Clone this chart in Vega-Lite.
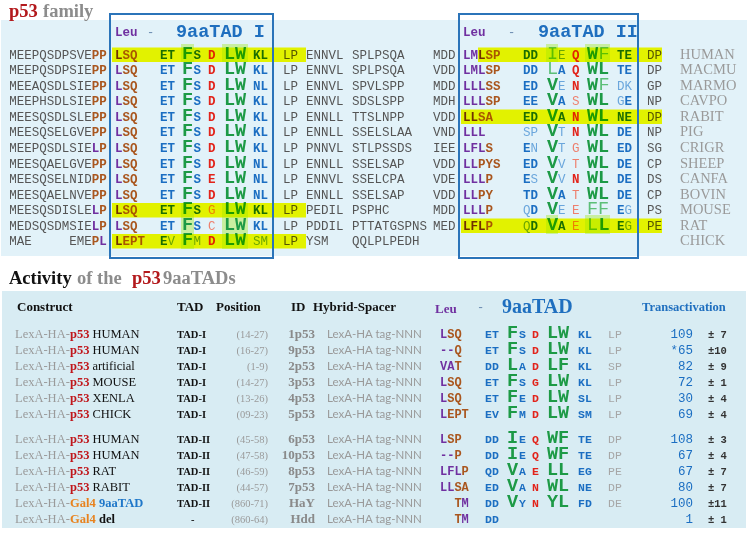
{
"$schema":"https://vega.github.io/schema/vega-lite/v6.json",
"width":748,"height":537,"padding":0,"autosize":{"type":"none"},
"background":"#ffffff",
"config":{"view":{"stroke":null}},
"datasets":{
"rc":[
{"x":1,"x2":747,"y":20,"y2":256,"k":"pT"},
{"x":2,"x2":746,"y":291,"y2":528,"k":"pB"},
{"x":181,"x2":194,"y":44,"y2":62,"k":"patch"},
{"x":222,"x2":248,"y":44,"y2":62,"k":"patch"},
{"x":546,"x2":558,"y":44,"y2":62,"k":"patch"},
{"x":585,"x2":610,"y":44,"y2":62,"k":"patch"},
{"x":181,"x2":194,"y":203,"y2":249,"k":"patch"},
{"x":222,"x2":248,"y":203,"y2":249,"k":"patch"},
{"x":546,"x2":558,"y":215,"y2":234,"k":"patch"},
{"x":585,"x2":610,"y":215,"y2":234,"k":"patch"},
{"x":112,"x2":306,"y":47.5,"y2":62,"k":"hl"},
{"x":478,"x2":662,"y":47.5,"y2":62,"k":"hl"},
{"x":461,"x2":662,"y":109.5,"y2":124,"k":"hl"},
{"x":112,"x2":306,"y":203,"y2":217.5,"k":"hl"},
{"x":461,"x2":662,"y":218.5,"y2":233,"k":"hl"},
{"x":112,"x2":306,"y":234,"y2":248.5,"k":"hl"},
{"x":110,"x2":273,"y":14,"y2":258,"k":"box"},
{"x":459,"x2":638,"y":14,"y2":258,"k":"box"}
],
"txt":[
{"x":9,"y":17,"t":"p53","k":"tred"},{"x":43,"y":17,"t":"family","k":"tgray"},
{"x":115,"y":36,"t":"Leu","k":"pu"},{"x":147,"y":36,"t":"-","k":"dash"},{"x":176,"y":37,"t":"9aaTAD I","k":"h9"},
{"x":463,"y":36,"t":"Leu","k":"pu"},{"x":508,"y":36,"t":"-","k":"dash"},{"x":538,"y":37,"t":"9aaTAD II","k":"h9"},

{"x":9.3,"y":58.5,"t":"MEEPQSDPSVE","k":"gr"},{"x":91.8,"y":58.5,"t":"PP","k":"br"},{"x":115,"y":58.5,"t":"L","k":"pu"},{"x":122.5,"y":58.5,"t":"SQ","k":"br"},{"x":160,"y":58.5,"t":"ET","k":"bl"},{"x":182,"y":58.5,"t":"F","k":"G"},{"x":193.5,"y":58.5,"t":"S","k":"bl"},{"x":208,"y":58.5,"t":"D","k":"re"},{"x":224,"y":58.5,"t":"LW","k":"G"},{"x":253,"y":58.5,"t":"KL","k":"bl"},{"x":283,"y":58.5,"t":"LP","k":"gr"},{"x":306,"y":58.5,"t":"ENNVL","k":"gr"},{"x":352,"y":58.5,"t":"SPLPSQA","k":"gr"},{"x":433,"y":58.5,"t":"MDD","k":"gr"},{"x":463,"y":58.5,"t":"LML","k":"pu"},{"x":485.5,"y":58.5,"t":"SP","k":"br"},{"x":523,"y":58.5,"t":"DD","k":"bl"},{"x":547,"y":58.5,"t":"I","k":"GL"},{"x":558,"y":58.5,"t":"E","k":"blL"},{"x":572,"y":58.5,"t":"Q","k":"re"},{"x":587,"y":58.5,"t":"W","k":"G"},{"x":598.5,"y":58.5,"t":"F","k":"GL"},{"x":617,"y":58.5,"t":"TE","k":"bl"},{"x":647,"y":58.5,"t":"DP","k":"gr"},{"x":680,"y":58.5,"t":"HUMAN","k":"sp"},

{"x":9.3,"y":74,"t":"MEEPQSDPSIE","k":"gr"},{"x":91.8,"y":74,"t":"PP","k":"br"},{"x":115,"y":74,"t":"L","k":"pu"},{"x":122.5,"y":74,"t":"SQ","k":"br"},{"x":160,"y":74,"t":"ET","k":"bl"},{"x":182,"y":74,"t":"F","k":"G"},{"x":193.5,"y":74,"t":"S","k":"bl"},{"x":208,"y":74,"t":"D","k":"re"},{"x":224,"y":74,"t":"LW","k":"G"},{"x":253,"y":74,"t":"KL","k":"bl"},{"x":283,"y":74,"t":"LP","k":"gr"},{"x":306,"y":74,"t":"ENNVL","k":"gr"},{"x":352,"y":74,"t":"SPLPSQA","k":"gr"},{"x":433,"y":74,"t":"VDD","k":"gr"},{"x":463,"y":74,"t":"LML","k":"pu"},{"x":485.5,"y":74,"t":"SP","k":"br"},{"x":523,"y":74,"t":"DD","k":"bl"},{"x":547,"y":74,"t":"L","k":"GL"},{"x":558,"y":74,"t":"A","k":"bl"},{"x":572,"y":74,"t":"Q","k":"re"},{"x":587,"y":74,"t":"WL","k":"G"},{"x":617,"y":74,"t":"TE","k":"bl"},{"x":647,"y":74,"t":"DP","k":"gr"},{"x":680,"y":74,"t":"MACMU","k":"sp"},

{"x":9.3,"y":89.5,"t":"MEEAQSDLSIE","k":"gr"},{"x":91.8,"y":89.5,"t":"PP","k":"br"},{"x":115,"y":89.5,"t":"L","k":"pu"},{"x":122.5,"y":89.5,"t":"SQ","k":"br"},{"x":160,"y":89.5,"t":"ET","k":"bl"},{"x":182,"y":89.5,"t":"F","k":"G"},{"x":193.5,"y":89.5,"t":"S","k":"bl"},{"x":208,"y":89.5,"t":"D","k":"re"},{"x":224,"y":89.5,"t":"LW","k":"G"},{"x":253,"y":89.5,"t":"NL","k":"bl"},{"x":283,"y":89.5,"t":"LP","k":"gr"},{"x":306,"y":89.5,"t":"ENNVL","k":"gr"},{"x":352,"y":89.5,"t":"SPVLSPP","k":"gr"},{"x":433,"y":89.5,"t":"MDD","k":"gr"},{"x":463,"y":89.5,"t":"LLL","k":"pu"},{"x":485.5,"y":89.5,"t":"SS","k":"br"},{"x":523,"y":89.5,"t":"ED","k":"bl"},{"x":547,"y":89.5,"t":"V","k":"G"},{"x":558,"y":89.5,"t":"E","k":"blL"},{"x":572,"y":89.5,"t":"N","k":"re"},{"x":587,"y":89.5,"t":"W","k":"G"},{"x":598.5,"y":89.5,"t":"F","k":"GL"},{"x":617,"y":89.5,"t":"DK","k":"blL"},{"x":647,"y":89.5,"t":"GP","k":"gr"},{"x":680,"y":89.5,"t":"MARMO","k":"sp"},

{"x":9.3,"y":105,"t":"MEEPHSDLSIE","k":"gr"},{"x":91.8,"y":105,"t":"PP","k":"br"},{"x":115,"y":105,"t":"L","k":"pu"},{"x":122.5,"y":105,"t":"SQ","k":"br"},{"x":160,"y":105,"t":"ET","k":"bl"},{"x":182,"y":105,"t":"F","k":"G"},{"x":193.5,"y":105,"t":"S","k":"bl"},{"x":208,"y":105,"t":"D","k":"re"},{"x":224,"y":105,"t":"LW","k":"G"},{"x":253,"y":105,"t":"KL","k":"bl"},{"x":283,"y":105,"t":"LP","k":"gr"},{"x":306,"y":105,"t":"ENNVL","k":"gr"},{"x":352,"y":105,"t":"SDSLSPP","k":"gr"},{"x":433,"y":105,"t":"MDH","k":"gr"},{"x":463,"y":105,"t":"LLL","k":"pu"},{"x":485.5,"y":105,"t":"SP","k":"br"},{"x":523,"y":105,"t":"EE","k":"bl"},{"x":547,"y":105,"t":"V","k":"G"},{"x":558,"y":105,"t":"A","k":"bl"},{"x":572,"y":105,"t":"S","k":"reL"},{"x":587,"y":105,"t":"WL","k":"G"},{"x":617,"y":105,"t":"G","k":"blL"},{"x":624.5,"y":105,"t":"E","k":"bl"},{"x":647,"y":105,"t":"NP","k":"gr"},{"x":680,"y":105,"t":"CAVPO","k":"sp"},

{"x":9.3,"y":120.5,"t":"MEESQSDLSLE","k":"gr"},{"x":91.8,"y":120.5,"t":"PP","k":"br"},{"x":115,"y":120.5,"t":"L","k":"pu"},{"x":122.5,"y":120.5,"t":"SQ","k":"br"},{"x":160,"y":120.5,"t":"ET","k":"bl"},{"x":182,"y":120.5,"t":"F","k":"G"},{"x":193.5,"y":120.5,"t":"S","k":"bl"},{"x":208,"y":120.5,"t":"D","k":"re"},{"x":224,"y":120.5,"t":"LW","k":"G"},{"x":253,"y":120.5,"t":"KL","k":"bl"},{"x":283,"y":120.5,"t":"LP","k":"gr"},{"x":306,"y":120.5,"t":"ENNLL","k":"gr"},{"x":352,"y":120.5,"t":"TTSLNPP","k":"gr"},{"x":433,"y":120.5,"t":"VDD","k":"gr"},{"x":463,"y":120.5,"t":"LL","k":"pu"},{"x":478,"y":120.5,"t":"SA","k":"br"},{"x":523,"y":120.5,"t":"ED","k":"bl"},{"x":547,"y":120.5,"t":"V","k":"G"},{"x":558,"y":120.5,"t":"A","k":"bl"},{"x":572,"y":120.5,"t":"N","k":"re"},{"x":587,"y":120.5,"t":"WL","k":"G"},{"x":617,"y":120.5,"t":"NE","k":"bl"},{"x":647,"y":120.5,"t":"DP","k":"gr"},{"x":680,"y":120.5,"t":"RABIT","k":"sp"},

{"x":9.3,"y":136,"t":"MEESQSELGVE","k":"gr"},{"x":91.8,"y":136,"t":"PP","k":"br"},{"x":115,"y":136,"t":"L","k":"pu"},{"x":122.5,"y":136,"t":"SQ","k":"br"},{"x":160,"y":136,"t":"ET","k":"bl"},{"x":182,"y":136,"t":"F","k":"G"},{"x":193.5,"y":136,"t":"S","k":"bl"},{"x":208,"y":136,"t":"D","k":"re"},{"x":224,"y":136,"t":"LW","k":"G"},{"x":253,"y":136,"t":"KL","k":"bl"},{"x":283,"y":136,"t":"LP","k":"gr"},{"x":306,"y":136,"t":"ENNLL","k":"gr"},{"x":352,"y":136,"t":"SSELSLAA","k":"gr"},{"x":433,"y":136,"t":"VND","k":"gr"},{"x":463,"y":136,"t":"LLL","k":"pu"},{"x":523,"y":136,"t":"SP","k":"blL"},{"x":547,"y":136,"t":"V","k":"G"},{"x":558,"y":136,"t":"T","k":"blL"},{"x":572,"y":136,"t":"N","k":"re"},{"x":587,"y":136,"t":"WL","k":"G"},{"x":617,"y":136,"t":"DE","k":"bl"},{"x":647,"y":136,"t":"NP","k":"gr"},{"x":680,"y":136,"t":"PIG","k":"sp"},

{"x":9.3,"y":151.5,"t":"MEEPQSDLSIE","k":"gr"},{"x":91.8,"y":151.5,"t":"L","k":"pu"},{"x":99.3,"y":151.5,"t":"P","k":"br"},{"x":115,"y":151.5,"t":"L","k":"pu"},{"x":122.5,"y":151.5,"t":"SQ","k":"br"},{"x":160,"y":151.5,"t":"ET","k":"bl"},{"x":182,"y":151.5,"t":"F","k":"G"},{"x":193.5,"y":151.5,"t":"S","k":"bl"},{"x":208,"y":151.5,"t":"D","k":"re"},{"x":224,"y":151.5,"t":"LW","k":"G"},{"x":253,"y":151.5,"t":"KL","k":"bl"},{"x":283,"y":151.5,"t":"LP","k":"gr"},{"x":306,"y":151.5,"t":"PNNVL","k":"gr"},{"x":352,"y":151.5,"t":"STLPSSDS","k":"gr"},{"x":433,"y":151.5,"t":"IEE","k":"gr"},{"x":463,"y":151.5,"t":"LFL","k":"pu"},{"x":485.5,"y":151.5,"t":"S","k":"br"},{"x":523,"y":151.5,"t":"E","k":"bl"},{"x":530.5,"y":151.5,"t":"N","k":"blL"},{"x":547,"y":151.5,"t":"V","k":"G"},{"x":558,"y":151.5,"t":"T","k":"blL"},{"x":572,"y":151.5,"t":"G","k":"reL"},{"x":587,"y":151.5,"t":"WL","k":"G"},{"x":617,"y":151.5,"t":"ED","k":"bl"},{"x":647,"y":151.5,"t":"SG","k":"gr"},{"x":680,"y":151.5,"t":"CRIGR","k":"sp"},

{"x":9.3,"y":167.5,"t":"MEESQAELGVE","k":"gr"},{"x":91.8,"y":167.5,"t":"PP","k":"br"},{"x":115,"y":167.5,"t":"L","k":"pu"},{"x":122.5,"y":167.5,"t":"SQ","k":"br"},{"x":160,"y":167.5,"t":"ET","k":"bl"},{"x":182,"y":167.5,"t":"F","k":"G"},{"x":193.5,"y":167.5,"t":"S","k":"bl"},{"x":208,"y":167.5,"t":"D","k":"re"},{"x":224,"y":167.5,"t":"LW","k":"G"},{"x":253,"y":167.5,"t":"NL","k":"bl"},{"x":283,"y":167.5,"t":"LP","k":"gr"},{"x":306,"y":167.5,"t":"ENNLL","k":"gr"},{"x":352,"y":167.5,"t":"SSELSAP","k":"gr"},{"x":433,"y":167.5,"t":"VDD","k":"gr"},{"x":463,"y":167.5,"t":"LL","k":"pu"},{"x":478,"y":167.5,"t":"PYS","k":"br"},{"x":523,"y":167.5,"t":"ED","k":"bl"},{"x":547,"y":167.5,"t":"V","k":"G"},{"x":558,"y":167.5,"t":"V","k":"blL"},{"x":572,"y":167.5,"t":"T","k":"reL"},{"x":587,"y":167.5,"t":"WL","k":"G"},{"x":617,"y":167.5,"t":"DE","k":"bl"},{"x":647,"y":167.5,"t":"CP","k":"gr"},{"x":680,"y":167.5,"t":"SHEEP","k":"sp"},

{"x":9.3,"y":183,"t":"MEESQSELNID","k":"gr"},{"x":91.8,"y":183,"t":"PP","k":"br"},{"x":115,"y":183,"t":"L","k":"pu"},{"x":122.5,"y":183,"t":"SQ","k":"br"},{"x":160,"y":183,"t":"ET","k":"bl"},{"x":182,"y":183,"t":"F","k":"G"},{"x":193.5,"y":183,"t":"S","k":"bl"},{"x":208,"y":183,"t":"E","k":"re"},{"x":224,"y":183,"t":"LW","k":"G"},{"x":253,"y":183,"t":"NL","k":"bl"},{"x":283,"y":183,"t":"LP","k":"gr"},{"x":306,"y":183,"t":"ENNVL","k":"gr"},{"x":352,"y":183,"t":"SSELCPA","k":"gr"},{"x":433,"y":183,"t":"VDE","k":"gr"},{"x":463,"y":183,"t":"LLL","k":"pu"},{"x":485.5,"y":183,"t":"P","k":"br"},{"x":523,"y":183,"t":"E","k":"bl"},{"x":530.5,"y":183,"t":"S","k":"blL"},{"x":547,"y":183,"t":"V","k":"G"},{"x":558,"y":183,"t":"V","k":"blL"},{"x":572,"y":183,"t":"N","k":"re"},{"x":587,"y":183,"t":"WL","k":"G"},{"x":617,"y":183,"t":"DE","k":"bl"},{"x":647,"y":183,"t":"DS","k":"gr"},{"x":680,"y":183,"t":"CANFA","k":"sp"},

{"x":9.3,"y":198.5,"t":"MEESQAELNVE","k":"gr"},{"x":91.8,"y":198.5,"t":"PP","k":"br"},{"x":115,"y":198.5,"t":"L","k":"pu"},{"x":122.5,"y":198.5,"t":"SQ","k":"br"},{"x":160,"y":198.5,"t":"ET","k":"bl"},{"x":182,"y":198.5,"t":"F","k":"G"},{"x":193.5,"y":198.5,"t":"S","k":"bl"},{"x":208,"y":198.5,"t":"D","k":"re"},{"x":224,"y":198.5,"t":"LW","k":"G"},{"x":253,"y":198.5,"t":"NL","k":"bl"},{"x":283,"y":198.5,"t":"LP","k":"gr"},{"x":306,"y":198.5,"t":"ENNLL","k":"gr"},{"x":352,"y":198.5,"t":"SSELSAP","k":"gr"},{"x":433,"y":198.5,"t":"VDD","k":"gr"},{"x":463,"y":198.5,"t":"LL","k":"pu"},{"x":478,"y":198.5,"t":"PY","k":"br"},{"x":523,"y":198.5,"t":"TD","k":"bl"},{"x":547,"y":198.5,"t":"V","k":"G"},{"x":558,"y":198.5,"t":"A","k":"bl"},{"x":572,"y":198.5,"t":"T","k":"reL"},{"x":587,"y":198.5,"t":"WL","k":"G"},{"x":617,"y":198.5,"t":"DE","k":"bl"},{"x":647,"y":198.5,"t":"CP","k":"gr"},{"x":680,"y":198.5,"t":"BOVIN","k":"sp"},

{"x":9.3,"y":214,"t":"MEESQSDISLE","k":"gr"},{"x":91.8,"y":214,"t":"L","k":"pu"},{"x":99.3,"y":214,"t":"P","k":"br"},{"x":115,"y":214,"t":"L","k":"pu"},{"x":122.5,"y":214,"t":"SQ","k":"br"},{"x":160,"y":214,"t":"ET","k":"bl"},{"x":182,"y":214,"t":"F","k":"G"},{"x":193.5,"y":214,"t":"S","k":"bl"},{"x":208,"y":214,"t":"G","k":"reL"},{"x":224,"y":214,"t":"LW","k":"G"},{"x":253,"y":214,"t":"KL","k":"bl"},{"x":283,"y":214,"t":"LP","k":"gr"},{"x":306,"y":214,"t":"PEDIL","k":"gr"},{"x":352,"y":214,"t":"PSPHC","k":"gr"},{"x":433,"y":214,"t":"MDD","k":"gr"},{"x":463,"y":214,"t":"LLL","k":"pu"},{"x":485.5,"y":214,"t":"P","k":"br"},{"x":523,"y":214,"t":"Q","k":"blL"},{"x":530.5,"y":214,"t":"D","k":"bl"},{"x":547,"y":214,"t":"V","k":"G"},{"x":558,"y":214,"t":"E","k":"blL"},{"x":572,"y":214,"t":"E","k":"reL"},{"x":587,"y":214,"t":"FF","k":"GL"},{"x":617,"y":214,"t":"E","k":"bl"},{"x":624.5,"y":214,"t":"G","k":"blL"},{"x":647,"y":214,"t":"PS","k":"gr"},{"x":680,"y":214,"t":"MOUSE","k":"sp"},

{"x":9.3,"y":229.5,"t":"MEDSQSDMSIE","k":"gr"},{"x":91.8,"y":229.5,"t":"L","k":"pu"},{"x":99.3,"y":229.5,"t":"P","k":"br"},{"x":115,"y":229.5,"t":"L","k":"pu"},{"x":122.5,"y":229.5,"t":"SQ","k":"br"},{"x":160,"y":229.5,"t":"ET","k":"bl"},{"x":182,"y":229.5,"t":"F","k":"G"},{"x":193.5,"y":229.5,"t":"S","k":"bl"},{"x":208,"y":229.5,"t":"C","k":"reL"},{"x":224,"y":229.5,"t":"LW","k":"G"},{"x":253,"y":229.5,"t":"KL","k":"bl"},{"x":283,"y":229.5,"t":"LP","k":"gr"},{"x":306,"y":229.5,"t":"PDDIL","k":"gr"},{"x":352,"y":229.5,"t":"PTTATGSPNS","k":"gr"},{"x":433,"y":229.5,"t":"MED","k":"gr"},{"x":463,"y":229.5,"t":"LFL","k":"pu"},{"x":485.5,"y":229.5,"t":"P","k":"br"},{"x":523,"y":229.5,"t":"Q","k":"blL"},{"x":530.5,"y":229.5,"t":"D","k":"bl"},{"x":547,"y":229.5,"t":"V","k":"G"},{"x":558,"y":229.5,"t":"A","k":"bl"},{"x":572,"y":229.5,"t":"E","k":"reL"},{"x":587,"y":229.5,"t":"L","k":"GL"},{"x":598.5,"y":229.5,"t":"L","k":"G"},{"x":617,"y":229.5,"t":"E","k":"bl"},{"x":624.5,"y":229.5,"t":"G","k":"blL"},{"x":647,"y":229.5,"t":"PE","k":"gr"},{"x":680,"y":229.5,"t":"RAT","k":"sp"},

{"x":9.3,"y":245,"t":"MAE","k":"gr"},{"x":69.3,"y":245,"t":"EME","k":"gr"},{"x":91.8,"y":245,"t":"P","k":"br"},{"x":99.3,"y":245,"t":"L","k":"pu"},{"x":115,"y":245,"t":"L","k":"pu"},{"x":122.5,"y":245,"t":"EPT","k":"br"},{"x":160,"y":245,"t":"E","k":"bl"},{"x":167.5,"y":245,"t":"V","k":"blL"},{"x":182,"y":245,"t":"F","k":"G"},{"x":193.5,"y":245,"t":"M","k":"blL"},{"x":208,"y":245,"t":"D","k":"re"},{"x":224,"y":245,"t":"LW","k":"G"},{"x":253,"y":245,"t":"SM","k":"blL"},{"x":283,"y":245,"t":"LP","k":"gr"},{"x":306,"y":245,"t":"YSM","k":"gr"},{"x":352,"y":245,"t":"QQLPLPEDH","k":"gr"},{"x":680,"y":245,"t":"CHICK","k":"sp"},

{"x":9,"y":284,"t":"Activity","k":"tblk"},{"x":77,"y":284,"t":"of the","k":"tgray"},{"x":132,"y":284,"t":"p53","k":"tred"},{"x":163,"y":284,"t":"9aaTADs","k":"tgray"},
{"x":17,"y":311,"t":"Construct","k":"hd"},{"x":177,"y":311,"t":"TAD","k":"hd"},{"x":216,"y":311,"t":"Position","k":"hd"},{"x":291,"y":311,"t":"ID","k":"hd"},{"x":313,"y":311,"t":"Hybrid-Spacer","k":"hd"},{"x":435,"y":313,"t":"Leu","k":"hpu"},{"x":477,"y":311,"t":"-","k":"dash"},{"x":502,"y":313,"t":"9aaTAD","k":"h9s"},{"x":642,"y":311,"t":"Transactivation","k":"htr"},

{"x":15,"y":337.5,"t":"LexA-HA-","k":"lexa"},{"x":70,"y":337.5,"t":"p53","k":"p53"},{"x":92.4,"y":337.5,"t":"HUMAN","k":"spc"},{"x":177,"y":337.5,"t":"TAD-I","k":"tad"},{"x":268,"y":337.5,"t":"(14-27)","k":"pos"},{"x":315,"y":337.5,"t":"1p53","k":"id"},{"x":327,"y":337.5,"t":"LexA-HA tag-NNN","k":"hyb"},
{"x":440,"y":337.5,"t":"L","k":"pu2"},{"x":447.2,"y":337.5,"t":"SQ","k":"br2"},{"x":485,"y":337.5,"t":"ET","k":"bl2"},{"x":507,"y":337.5,"t":"F","k":"G2"},{"x":519,"y":337.5,"t":"S","k":"bl2"},{"x":532,"y":337.5,"t":"D","k":"re2"},{"x":547,"y":337.5,"t":"LW","k":"G2"},{"x":578,"y":337.5,"t":"KL","k":"bl2"},{"x":608,"y":337.5,"t":"LP","k":"lg2"},{"x":693,"y":337.5,"t":"109","k":"num"},{"x":708,"y":337.5,"t":"± 7","k":"pm"},

{"x":15,"y":353.5,"t":"LexA-HA-","k":"lexa"},{"x":70,"y":353.5,"t":"p53","k":"p53"},{"x":92.4,"y":353.5,"t":"HUMAN","k":"spc"},{"x":177,"y":353.5,"t":"TAD-I","k":"tad"},{"x":268,"y":353.5,"t":"(16-27)","k":"pos"},{"x":315,"y":353.5,"t":"9p53","k":"id"},{"x":327,"y":353.5,"t":"LexA-HA tag-NNN","k":"hyb"},
{"x":440,"y":353.5,"t":"--","k":"pu2"},{"x":454.4,"y":353.5,"t":"Q","k":"br2"},{"x":485,"y":353.5,"t":"ET","k":"bl2"},{"x":507,"y":353.5,"t":"F","k":"G2"},{"x":519,"y":353.5,"t":"S","k":"bl2"},{"x":532,"y":353.5,"t":"D","k":"re2"},{"x":547,"y":353.5,"t":"LW","k":"G2"},{"x":578,"y":353.5,"t":"KL","k":"bl2"},{"x":608,"y":353.5,"t":"LP","k":"lg2"},{"x":693,"y":353.5,"t":"*65","k":"num"},{"x":708,"y":353.5,"t":"±10","k":"pm"},

{"x":15,"y":369.5,"t":"LexA-HA-","k":"lexa"},{"x":70,"y":369.5,"t":"p53","k":"p53"},{"x":92.4,"y":369.5,"t":"artificial","k":"spc"},{"x":177,"y":369.5,"t":"TAD-I","k":"tad"},{"x":268,"y":369.5,"t":"(1-9)","k":"pos"},{"x":315,"y":369.5,"t":"2p53","k":"id"},{"x":327,"y":369.5,"t":"LexA-HA tag-NNN","k":"hyb"},
{"x":440,"y":369.5,"t":"VA","k":"pu2"},{"x":454.4,"y":369.5,"t":"T","k":"br2"},{"x":485,"y":369.5,"t":"DD","k":"bl2"},{"x":507,"y":369.5,"t":"L","k":"G2"},{"x":519,"y":369.5,"t":"A","k":"bl2"},{"x":532,"y":369.5,"t":"D","k":"re2"},{"x":547,"y":369.5,"t":"LF","k":"G2"},{"x":578,"y":369.5,"t":"KL","k":"bl2"},{"x":608,"y":369.5,"t":"SP","k":"lg2"},{"x":693,"y":369.5,"t":"82","k":"num"},{"x":708,"y":369.5,"t":"± 9","k":"pm"},

{"x":15,"y":385.5,"t":"LexA-HA-","k":"lexa"},{"x":70,"y":385.5,"t":"p53","k":"p53"},{"x":92.4,"y":385.5,"t":"MOUSE","k":"spc"},{"x":177,"y":385.5,"t":"TAD-I","k":"tad"},{"x":268,"y":385.5,"t":"(14-27)","k":"pos"},{"x":315,"y":385.5,"t":"3p53","k":"id"},{"x":327,"y":385.5,"t":"LexA-HA tag-NNN","k":"hyb"},
{"x":440,"y":385.5,"t":"L","k":"pu2"},{"x":447.2,"y":385.5,"t":"SQ","k":"br2"},{"x":485,"y":385.5,"t":"ET","k":"bl2"},{"x":507,"y":385.5,"t":"F","k":"G2"},{"x":519,"y":385.5,"t":"S","k":"bl2"},{"x":532,"y":385.5,"t":"G","k":"re2"},{"x":547,"y":385.5,"t":"LW","k":"G2"},{"x":578,"y":385.5,"t":"KL","k":"bl2"},{"x":608,"y":385.5,"t":"LP","k":"lg2"},{"x":693,"y":385.5,"t":"72","k":"num"},{"x":708,"y":385.5,"t":"± 1","k":"pm"},

{"x":15,"y":401.5,"t":"LexA-HA-","k":"lexa"},{"x":70,"y":401.5,"t":"p53","k":"p53"},{"x":92.4,"y":401.5,"t":"XENLA","k":"spc"},{"x":177,"y":401.5,"t":"TAD-I","k":"tad"},{"x":268,"y":401.5,"t":"(13-26)","k":"pos"},{"x":315,"y":401.5,"t":"4p53","k":"id"},{"x":327,"y":401.5,"t":"LexA-HA tag-NNN","k":"hyb"},
{"x":440,"y":401.5,"t":"L","k":"pu2"},{"x":447.2,"y":401.5,"t":"SQ","k":"br2"},{"x":485,"y":401.5,"t":"ET","k":"bl2"},{"x":507,"y":401.5,"t":"F","k":"G2"},{"x":519,"y":401.5,"t":"E","k":"bl2"},{"x":532,"y":401.5,"t":"D","k":"re2"},{"x":547,"y":401.5,"t":"LW","k":"G2"},{"x":578,"y":401.5,"t":"SL","k":"bl2"},{"x":608,"y":401.5,"t":"LP","k":"lg2"},{"x":693,"y":401.5,"t":"30","k":"num"},{"x":708,"y":401.5,"t":"± 4","k":"pm"},

{"x":15,"y":417.5,"t":"LexA-HA-","k":"lexa"},{"x":70,"y":417.5,"t":"p53","k":"p53"},{"x":92.4,"y":417.5,"t":"CHICK","k":"spc"},{"x":177,"y":417.5,"t":"TAD-I","k":"tad"},{"x":268,"y":417.5,"t":"(09-23)","k":"pos"},{"x":315,"y":417.5,"t":"5p53","k":"id"},{"x":327,"y":417.5,"t":"LexA-HA tag-NNN","k":"hyb"},
{"x":440,"y":417.5,"t":"L","k":"pu2"},{"x":447.2,"y":417.5,"t":"EPT","k":"br2"},{"x":485,"y":417.5,"t":"EV","k":"bl2"},{"x":507,"y":417.5,"t":"F","k":"G2"},{"x":519,"y":417.5,"t":"M","k":"bl2"},{"x":532,"y":417.5,"t":"D","k":"re2"},{"x":547,"y":417.5,"t":"LW","k":"G2"},{"x":578,"y":417.5,"t":"SM","k":"bl2"},{"x":608,"y":417.5,"t":"LP","k":"lg2"},{"x":693,"y":417.5,"t":"69","k":"num"},{"x":708,"y":417.5,"t":"± 4","k":"pm"},

{"x":15,"y":442.5,"t":"LexA-HA-","k":"lexa"},{"x":70,"y":442.5,"t":"p53","k":"p53"},{"x":92.4,"y":442.5,"t":"HUMAN","k":"spc"},{"x":177,"y":442.5,"t":"TAD-II","k":"tad"},{"x":268,"y":442.5,"t":"(45-58)","k":"pos"},{"x":315,"y":442.5,"t":"6p53","k":"id"},{"x":327,"y":442.5,"t":"LexA-HA tag-NNN","k":"hyb"},
{"x":440,"y":442.5,"t":"L","k":"pu2"},{"x":447.2,"y":442.5,"t":"SP","k":"br2"},{"x":485,"y":442.5,"t":"DD","k":"bl2"},{"x":507,"y":442.5,"t":"I","k":"G2"},{"x":519,"y":442.5,"t":"E","k":"bl2"},{"x":532,"y":442.5,"t":"Q","k":"re2"},{"x":547,"y":442.5,"t":"WF","k":"G2"},{"x":578,"y":442.5,"t":"TE","k":"bl2"},{"x":608,"y":442.5,"t":"DP","k":"lg2"},{"x":693,"y":442.5,"t":"108","k":"num"},{"x":708,"y":442.5,"t":"± 3","k":"pm"},

{"x":15,"y":458.5,"t":"LexA-HA-","k":"lexa"},{"x":70,"y":458.5,"t":"p53","k":"p53"},{"x":92.4,"y":458.5,"t":"HUMAN","k":"spc"},{"x":177,"y":458.5,"t":"TAD-II","k":"tad"},{"x":268,"y":458.5,"t":"(47-58)","k":"pos"},{"x":315,"y":458.5,"t":"10p53","k":"id"},{"x":327,"y":458.5,"t":"LexA-HA tag-NNN","k":"hyb"},
{"x":440,"y":458.5,"t":"--","k":"pu2"},{"x":454.4,"y":458.5,"t":"P","k":"br2"},{"x":485,"y":458.5,"t":"DD","k":"bl2"},{"x":507,"y":458.5,"t":"I","k":"G2"},{"x":519,"y":458.5,"t":"E","k":"bl2"},{"x":532,"y":458.5,"t":"Q","k":"re2"},{"x":547,"y":458.5,"t":"WF","k":"G2"},{"x":578,"y":458.5,"t":"TE","k":"bl2"},{"x":608,"y":458.5,"t":"DP","k":"lg2"},{"x":693,"y":458.5,"t":"67","k":"num"},{"x":708,"y":458.5,"t":"± 4","k":"pm"},

{"x":15,"y":474.5,"t":"LexA-HA-","k":"lexa"},{"x":70,"y":474.5,"t":"p53","k":"p53"},{"x":92.4,"y":474.5,"t":"RAT","k":"spc"},{"x":177,"y":474.5,"t":"TAD-II","k":"tad"},{"x":268,"y":474.5,"t":"(46-59)","k":"pos"},{"x":315,"y":474.5,"t":"8p53","k":"id"},{"x":327,"y":474.5,"t":"LexA-HA tag-NNN","k":"hyb"},
{"x":440,"y":474.5,"t":"LFL","k":"pu2"},{"x":461.6,"y":474.5,"t":"P","k":"br2"},{"x":485,"y":474.5,"t":"QD","k":"bl2"},{"x":507,"y":474.5,"t":"V","k":"G2"},{"x":519,"y":474.5,"t":"A","k":"bl2"},{"x":532,"y":474.5,"t":"E","k":"re2"},{"x":547,"y":474.5,"t":"LL","k":"G2"},{"x":578,"y":474.5,"t":"EG","k":"bl2"},{"x":608,"y":474.5,"t":"PE","k":"lg2"},{"x":693,"y":474.5,"t":"67","k":"num"},{"x":708,"y":474.5,"t":"± 7","k":"pm"},

{"x":15,"y":490.5,"t":"LexA-HA-","k":"lexa"},{"x":70,"y":490.5,"t":"p53","k":"p53"},{"x":92.4,"y":490.5,"t":"RABIT","k":"spc"},{"x":177,"y":490.5,"t":"TAD-II","k":"tad"},{"x":268,"y":490.5,"t":"(44-57)","k":"pos"},{"x":315,"y":490.5,"t":"7p53","k":"id"},{"x":327,"y":490.5,"t":"LexA-HA tag-NNN","k":"hyb"},
{"x":440,"y":490.5,"t":"LL","k":"pu2"},{"x":454.4,"y":490.5,"t":"SA","k":"br2"},{"x":485,"y":490.5,"t":"ED","k":"bl2"},{"x":507,"y":490.5,"t":"V","k":"G2"},{"x":519,"y":490.5,"t":"A","k":"bl2"},{"x":532,"y":490.5,"t":"N","k":"re2"},{"x":547,"y":490.5,"t":"WL","k":"G2"},{"x":578,"y":490.5,"t":"NE","k":"bl2"},{"x":608,"y":490.5,"t":"DP","k":"lg2"},{"x":693,"y":490.5,"t":"80","k":"num"},{"x":708,"y":490.5,"t":"± 7","k":"pm"},

{"x":15,"y":506.5,"t":"LexA-HA-","k":"lexa"},{"x":70,"y":506.5,"t":"Gal4","k":"gal"},{"x":99,"y":506.5,"t":"9aaTAD","k":"c9"},{"x":177,"y":506.5,"t":"TAD-II","k":"tad"},{"x":268,"y":506.5,"t":"(860-71)","k":"pos"},{"x":315,"y":506.5,"t":"HaY","k":"id"},{"x":327,"y":506.5,"t":"LexA-HA tag-NNN","k":"hyb"},
{"x":454.4,"y":506.5,"t":"T","k":"br2"},{"x":461.6,"y":506.5,"t":"M","k":"pu2"},{"x":485,"y":506.5,"t":"DD","k":"bl2"},{"x":507,"y":506.5,"t":"V","k":"G2"},{"x":519,"y":506.5,"t":"Y","k":"bl2"},{"x":532,"y":506.5,"t":"N","k":"re2"},{"x":547,"y":506.5,"t":"YL","k":"G2"},{"x":578,"y":506.5,"t":"FD","k":"bl2"},{"x":608,"y":506.5,"t":"DE","k":"lg2"},{"x":693,"y":506.5,"t":"100","k":"num"},{"x":708,"y":506.5,"t":"±11","k":"pm"},

{"x":15,"y":522.5,"t":"LexA-HA-","k":"lexa"},{"x":70,"y":522.5,"t":"Gal4","k":"gal"},{"x":99,"y":522.5,"t":"del","k":"del"},{"x":191,"y":522.5,"t":"-","k":"tad"},{"x":268,"y":522.5,"t":"(860-64)","k":"pos"},{"x":315,"y":522.5,"t":"Hdd","k":"id"},{"x":327,"y":522.5,"t":"LexA-HA tag-NNN","k":"hyb"},
{"x":454.4,"y":522.5,"t":"T","k":"br2"},{"x":461.6,"y":522.5,"t":"M","k":"pu2"},{"x":485,"y":522.5,"t":"DD","k":"bl2"},{"x":693,"y":522.5,"t":"1","k":"num"},{"x":708,"y":522.5,"t":"± 1","k":"pm"}
]
},
"encoding":{
"x":{"field":"x","type":"quantitative","scale":{"domain":[0,748],"nice":false,"zero":false},"axis":null},
"y":{"field":"y","type":"quantitative","scale":{"domain":[0,537],"nice":false,"zero":false,"reverse":true},"axis":null}
},
"layer":[
{"data":{"name":"rc"},"transform":[{"filter":{"field":"k","oneOf":["pT","pB","patch"]}}],
 "mark":{"type":"rect","strokeWidth":0},
 "encoding":{"x2":{"field":"x2"},"y2":{"field":"y2"},
  "fill":{"field":"k","type":"nominal","scale":{"domain":["pT","pB","patch"],"range":["#e2f2f9","#d8ecf3","#c8eea0"]},"legend":null}}},
{"data":{"name":"txt"},
 "encoding":{
  "text":{"field":"t","type":"nominal"},
  "color":{"field":"k","type":"nominal","legend":null,"scale":{
   "domain":["pu","br","bl","G","re","h9","pu2","br2","bl2","G2","re2","pm","gr","blL","GL","reL","dash","lg2","num","tred","tgray","tblk","hd","hpu","h9s","htr","p53","gal","c9","del","tad","id","sp","lexa","spc","pos","hyb"],
   "range":["#7030a0","#a9561e","#1b6ec2","#1d9a46","#e2231a","#1f6fbf","#7030a0","#a9561e","#1b6ec2","#1d9a46","#e2231a","#333333","#555555","#6aa6dc","#5cbf78","#ee7f6d","#6b8bb0","#a6a6a6","#1b6ec2","#b3191c","#8c8c8c","#111111","#111111","#7030a0","#1f6fbf","#1f6fbf","#c0171c","#e8821e","#1f77c9","#111111","#111111","#8a8a8a","#9a9a9a","#9a9a9a","#111111","#9a9a9a","#9a9a9a"]}},
  "size":{"condition":[
   {"test":"indexof(['G','GL','h9','tred','tgray','tblk','G2'],datum.k)>=0","value":18.5},
   {"test":"datum.k==='h9s'","value":20},
   {"test":"datum.k==='sp'","value":14.5},
   {"test":"indexof(['hd','hpu','id'],datum.k)>=0","value":13},
   {"test":"indexof(['lexa','spc','p53','gal','c9','del'],datum.k)>=0","value":12.5},
   {"test":"indexof(['pu2','br2','dash'],datum.k)>=0","value":12},
   {"test":"indexof(['bl2','re2','lg2','hyb'],datum.k)>=0","value":11.5},
   {"test":"indexof(['tad','pos','pm'],datum.k)>=0","value":10.5}
  ],"value":12.5}
 },
 "layer":[
  {"transform":[{"filter":{"field":"k","oneOf":["pu","br","bl","G","re","h9","pu2","br2","bl2","G2","re2","pm"]}}],
   "mark":{"type":"text","font":"Liberation Mono","fontWeight":"bold","align":"left","baseline":"alphabetic"}},
  {"transform":[{"filter":{"field":"k","oneOf":["gr","blL","GL","reL","dash","lg2"]}}],
   "mark":{"type":"text","font":"Liberation Mono","fontWeight":"normal","align":"left","baseline":"alphabetic"}},
  {"transform":[{"filter":{"field":"k","oneOf":["num"]}}],
   "mark":{"type":"text","font":"Liberation Mono","fontWeight":"normal","align":"right","baseline":"alphabetic"}},
  {"transform":[{"filter":{"field":"k","oneOf":["tred","tgray","tblk","hd","hpu","h9s","htr","p53","gal","c9","del","tad"]}}],
   "mark":{"type":"text","font":"Liberation Serif","fontWeight":"bold","align":"left","baseline":"alphabetic"}},
  {"transform":[{"filter":{"field":"k","oneOf":["id"]}}],
   "mark":{"type":"text","font":"Liberation Serif","fontWeight":"bold","align":"right","baseline":"alphabetic"}},
  {"transform":[{"filter":{"field":"k","oneOf":["sp","lexa","spc"]}}],
   "mark":{"type":"text","font":"Liberation Serif","fontWeight":"normal","align":"left","baseline":"alphabetic"}},
  {"transform":[{"filter":{"field":"k","oneOf":["pos"]}}],
   "mark":{"type":"text","font":"Liberation Serif","fontWeight":"normal","align":"right","baseline":"alphabetic"}},
  {"transform":[{"filter":{"field":"k","oneOf":["hyb"]}}],
   "mark":{"type":"text","font":"Lato","fontWeight":"normal","align":"left","baseline":"alphabetic"}}
 ]},
{"data":{"name":"rc"},"transform":[{"filter":{"field":"k","equal":"hl"}}],
 "mark":{"type":"rect","color":"#ffff00","blend":"multiply","strokeWidth":0},
 "encoding":{"x2":{"field":"x2"},"y2":{"field":"y2"}}},
{"data":{"name":"rc"},"transform":[{"filter":{"field":"k","equal":"box"}}],
 "mark":{"type":"rect","filled":false,"stroke":"#2b74b9","strokeWidth":2},
 "encoding":{"x2":{"field":"x2"},"y2":{"field":"y2"}}}
],
"resolve":{"scale":{"color":"independent","fill":"independent"}}
}
